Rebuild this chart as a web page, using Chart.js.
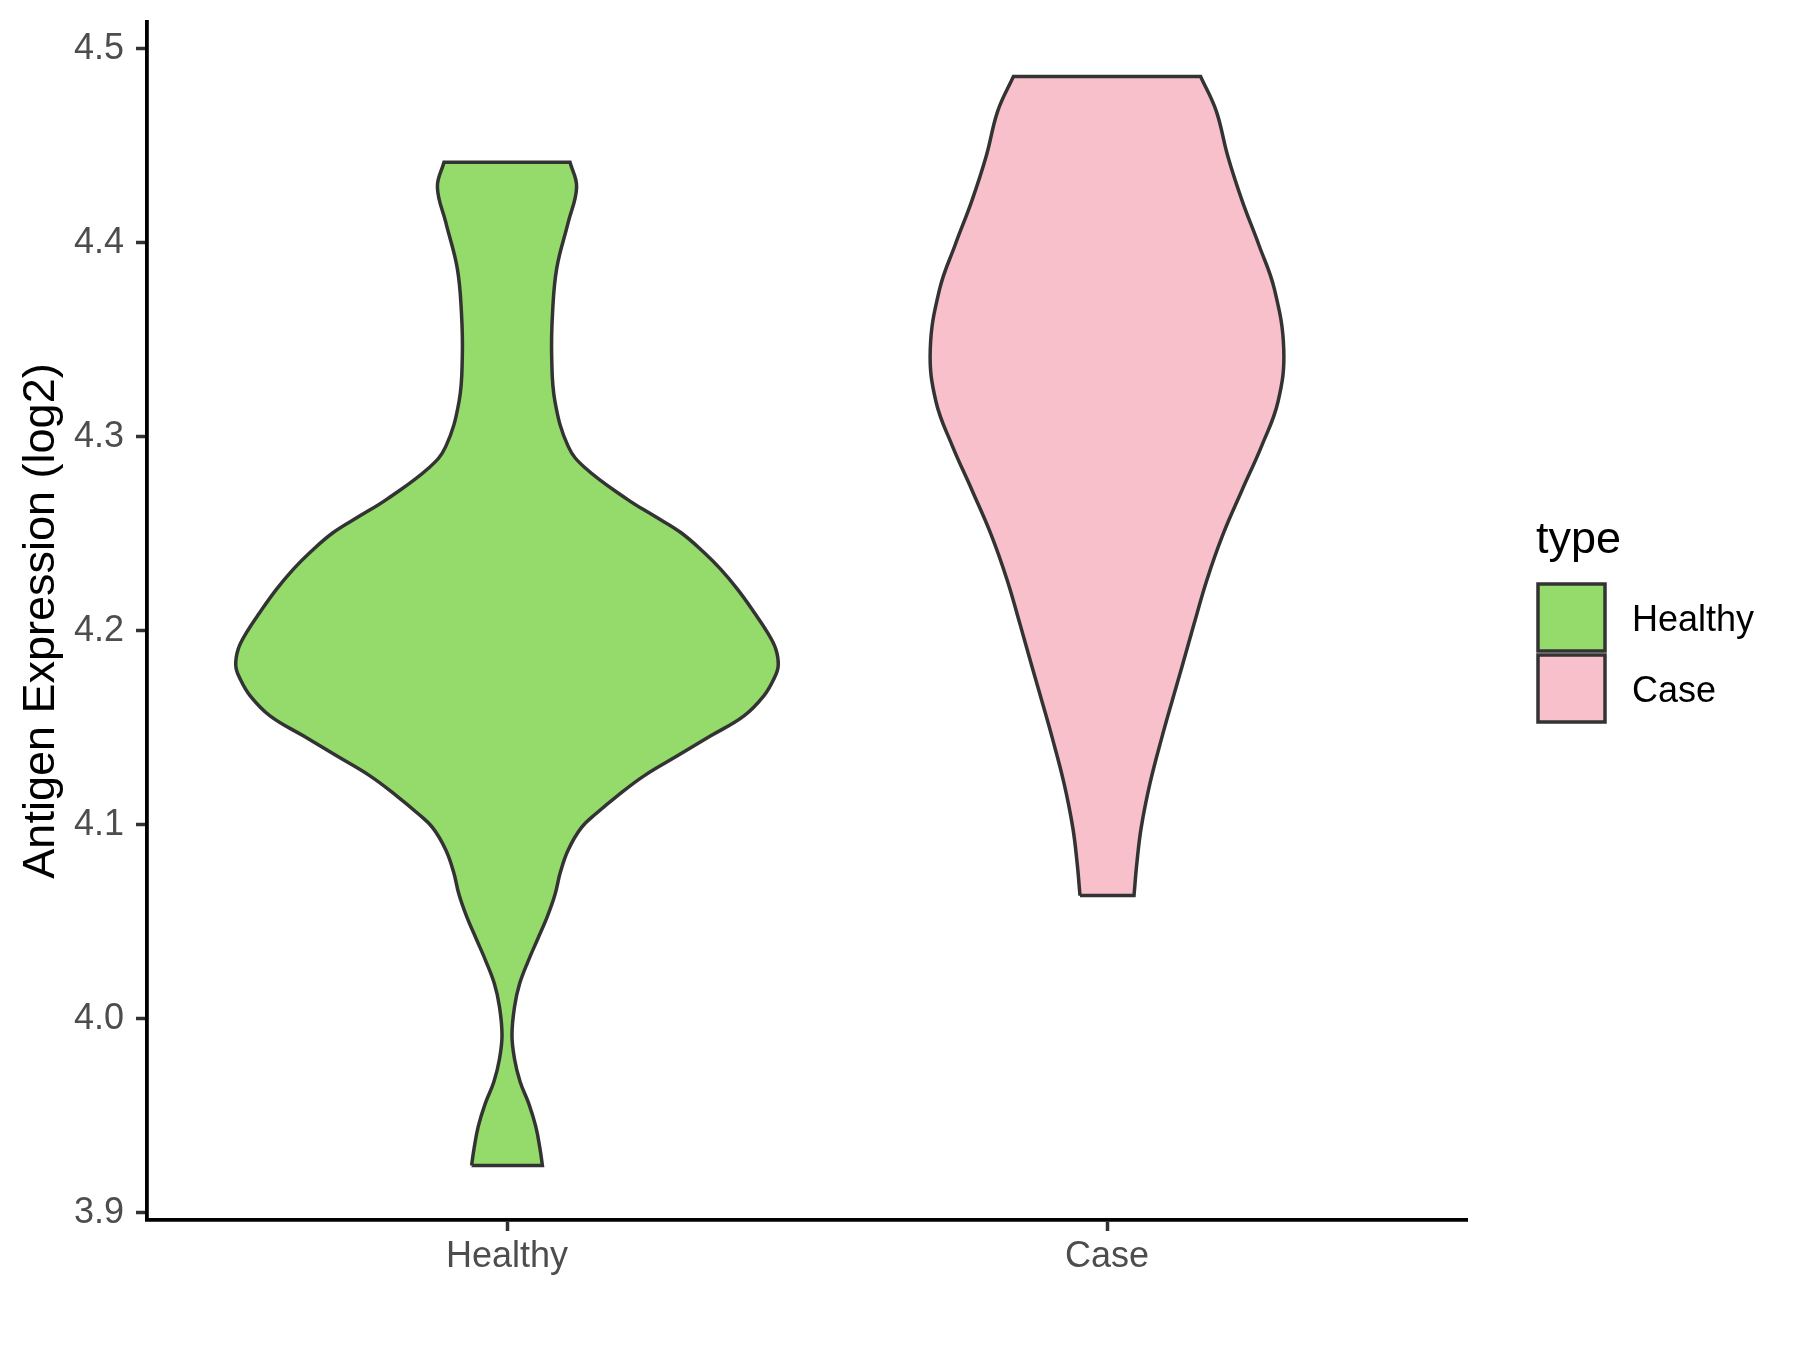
<!DOCTYPE html>
<html>
<head>
<meta charset="utf-8">
<script src="https://cdn.jsdelivr.net/npm/chart.js@4.4.1/dist/chart.umd.min.js"></script>
<style>
  body { margin: 0; background: #fff; }
  #wrap { width: 1800px; height: 1350px; }
</style>
</head>
<body>
<div id="wrap"><canvas id="myChart" width="1800" height="1350"></canvas></div>
<script>
const categories = ["Healthy", "Case"];
const fillColors = ["#94DB6B", "#F7C0CB"];
const yTicks = [3.9, 4.0, 4.1, 4.2, 4.3, 4.4, 4.5];

// expression levels (bottom to top) and violin half-widths in category units
const healthyLevels = [
  3.9244, 3.933, 3.9444, 3.956, 3.9674, 3.979, 3.9916, 4.0065, 4.018, 4.0295,
  4.041, 4.0525, 4.064, 4.0756, 4.087, 4.0985, 4.1063, 4.1149, 4.1252, 4.1355,
  4.1458, 4.1561, 4.1664, 4.1753, 4.1819, 4.1905, 4.1991, 4.2094, 4.2214, 4.2317,
  4.2403, 4.2506, 4.2592, 4.2677, 4.284, 4.295, 4.318, 4.341, 4.3643, 4.387,
  4.4104, 4.4287, 4.4414,
];
const healthyWidths = [
  0.059, 0.055, 0.048, 0.0366, 0.022, 0.0127, 0.0083, 0.0127, 0.021, 0.035,
  0.051, 0.067, 0.080, 0.089, 0.102, 0.124, 0.1506, 0.184, 0.2284, 0.284,
  0.3396, 0.395, 0.428, 0.445, 0.452, 0.448, 0.434, 0.412, 0.384, 0.356,
  0.3284, 0.2896, 0.245, 0.2006, 0.130, 0.102, 0.080, 0.0745, 0.076, 0.083,
  0.102, 0.116, 0.105,
];
const caseLevels = [
  4.0635, 4.08, 4.0985, 4.1214, 4.1445, 4.1675, 4.1804, 4.2034, 4.2263, 4.2494,
  4.2724, 4.2954, 4.318, 4.3448, 4.376, 4.3989, 4.4218, 4.4449, 4.4679, 4.4856,
];
const caseWidths = [
  0.045, 0.0497, 0.057, 0.0717, 0.091, 0.112, 0.124, 0.145, 0.1666, 0.193,
  0.225, 0.258, 0.285, 0.2946, 0.279, 0.253, 0.225, 0.201, 0.182, 0.156,
];

// outline of one violin: up the left side, down the right side, corners doubled
function violinPoints(center, levels, widths) {
  const left = levels.map((v, i) => ({ x: center - widths[i], y: v }));
  const right = levels.map((v, i) => ({ x: center + widths[i], y: v })).reverse();
  const last = left.length - 1;
  return [left[0], ...left, left[last], right[0], ...right, right[last], left[0]];
}

function violinDataset(label, i, levels, widths) {
  return {
    label: label,
    data: violinPoints(i + 1, levels, widths),
    showLine: true,
    fill: "shape",
    tension: 0.4,
    backgroundColor: fillColors[i],
    borderColor: "#333333",
    borderWidth: 3.5,
    pointRadius: 0,
  };
}

const legendPlugin = {
  id: "typeLegend",
  afterDraw(chart) {
    const ctx = chart.ctx;
    ctx.save();
    ctx.fillStyle = "#000";
    ctx.textBaseline = "alphabetic";
    ctx.font = "45px 'Liberation Sans', Arial, sans-serif";
    ctx.fillText("type", 1536, 553);
    ctx.font = "36px 'Liberation Sans', Arial, sans-serif";
    categories.forEach((c, i) => {
      const top = 584 + i * 71;
      ctx.fillStyle = fillColors[i];
      ctx.fillRect(1538, top, 67, 67);
      ctx.strokeStyle = "#333333";
      ctx.lineWidth = 3.5;
      ctx.strokeRect(1538, top, 67, 67);
      ctx.fillStyle = "#000";
      ctx.fillText(c, 1632, top + 47);
    });
    ctx.restore();
  },
};

function createChart() {
  const ctx = document.getElementById("myChart").getContext("2d");
  new Chart(ctx, {
    type: "scatter",
    data: {
      datasets: [
        violinDataset("Healthy", 0, healthyLevels, healthyWidths),
        violinDataset("Case", 1, caseLevels, caseWidths),
      ],
    },
    plugins: [legendPlugin],
    options: {
      responsive: false,
      animation: false,
      events: [],
      layout: { padding: { top: 22, right: 333, bottom: 0, left: 0 } },
      plugins: { legend: { display: false }, tooltip: { enabled: false } },
      scales: {
        x: {
          type: "linear",
          min: 0.4,
          max: 2.6,
          afterFit: (scale) => {
            scale.height = 130;
            scale.paddingLeft = 0;
            scale.paddingRight = 0;
          },
          afterBuildTicks: (scale) => { scale.ticks = [{ value: 1 }, { value: 2 }]; },
          ticks: {
            callback: (v) => categories[v - 1],
            color: "#4D4D4D",
            font: { family: "'Liberation Sans', Arial, sans-serif", size: 36 },
            padding: 4,
          },
          grid: { drawOnChartArea: false, tickLength: 11, tickColor: "#333333", tickWidth: 3.5 },
          border: { color: "#000", width: 3.8 },
        },
        y: {
          min: 3.8963,
          max: 4.5137,
          afterFit: (scale) => {
            scale.width = 147;
            scale.paddingTop = 0;
            scale.paddingBottom = 0;
          },
          afterBuildTicks: (scale) => { scale.ticks = yTicks.map((v) => ({ value: v })); },
          ticks: {
            callback: (v) => v.toFixed(1),
            color: "#4D4D4D",
            font: { family: "'Liberation Sans', Arial, sans-serif", size: 36 },
            padding: 12,
          },
          grid: { drawOnChartArea: false, tickLength: 11, tickColor: "#333333", tickWidth: 3.5 },
          border: { color: "#000", width: 3.8 },
          title: {
            display: true,
            text: "Antigen Expression (log2)",
            color: "#000",
            font: { family: "'Liberation Sans', Arial, sans-serif", size: 45 },
            padding: { top: 15, bottom: 0 },
          },
        },
      },
    },
  });
}

createChart();
</script>
</body>
</html>
